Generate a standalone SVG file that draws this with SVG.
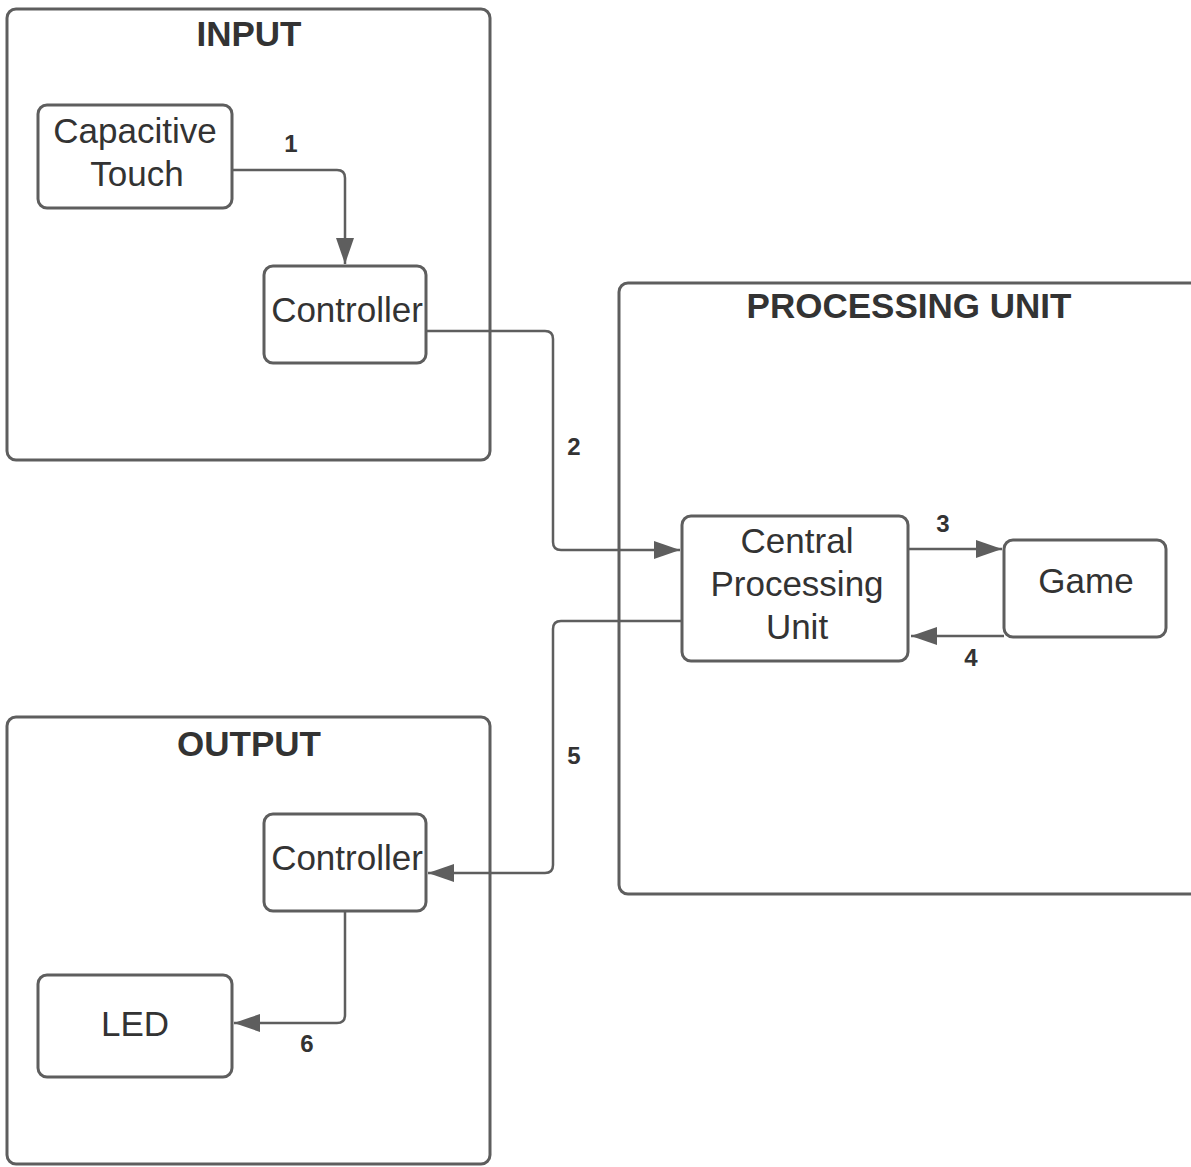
<svg xmlns="http://www.w3.org/2000/svg" width="1191" height="1167" viewBox="0 0 1191 1167">
<style>
.container{fill:none;stroke:#5e5e5e;stroke-width:3}
.node{fill:#ffffff;stroke:#5e5e5e;stroke-width:3}
.title{font-family:"Liberation Sans",Arial,sans-serif;font-size:35px;font-weight:bold;fill:#333333;text-anchor:middle}
.label{font-family:"Liberation Sans",Arial,sans-serif;font-size:35px;fill:#333333;text-anchor:middle}
.num{font-family:"Liberation Sans",Arial,sans-serif;font-size:24px;font-weight:bold;fill:#333333;text-anchor:middle}
.conn{fill:none;stroke:#5e5e5e;stroke-width:2.5}
</style>
<defs>
<marker id="arrow" markerUnits="userSpaceOnUse" markerWidth="28" markerHeight="20" refX="26" refY="9" orient="auto">
<path d="M0,0 L26,9 L0,18 Z" fill="#5e5e5e"/>
</marker>
</defs>
<rect width="1191" height="1167" fill="#ffffff"/>
<g id="input-group">
<rect class="container" x="7" y="9" width="483" height="451" rx="9"/>
<text class="title" x="249" y="46">INPUT</text>
</g>
<g id="processing-group">
<rect class="container" x="619" y="283" width="620" height="611" rx="9"/>
<text class="title" x="909" y="318">PROCESSING UNIT</text>
</g>
<g id="output-group">
<rect class="container" x="7" y="717" width="483" height="447" rx="9"/>
<text class="title" x="249" y="756">OUTPUT</text>
</g>
<g id="connectors">
<path class="conn" marker-end="url(#arrow)" d="M232,170 H337 Q345,170 345,178 V264"/>
<path class="conn" marker-end="url(#arrow)" d="M426,331 H545 Q553,331 553,339 V542 Q553,550 561,550 H680"/>
<path class="conn" marker-end="url(#arrow)" d="M908,549 H1002"/>
<path class="conn" marker-end="url(#arrow)" d="M1004,636 H911"/>
<path class="conn" marker-end="url(#arrow)" d="M682,621 H561 Q553,621 553,629 V865 Q553,873 545,873 H428"/>
<path class="conn" marker-end="url(#arrow)" d="M345,911 V1015 Q345,1023 337,1023 H234"/>
<text class="num" x="291" y="152">1</text>
<text class="num" x="574" y="455">2</text>
<text class="num" x="943" y="532">3</text>
<text class="num" x="971" y="666">4</text>
<text class="num" x="574" y="764">5</text>
<text class="num" x="307" y="1052">6</text>
</g>
<g id="capacitive-touch">
<rect class="node" x="38" y="105" width="194" height="103" rx="9"/>
<text class="label" x="135" y="143">Capacitive</text>
<text class="label" x="137" y="186">Touch</text>
</g>
<g id="input-controller">
<rect class="node" x="264" y="266" width="162" height="97" rx="9"/>
<text class="label" x="347" y="322">Controller</text>
</g>
<g id="cpu">
<rect class="node" x="682" y="516" width="226" height="145" rx="9"/>
<text class="label" x="797" y="553">Central</text>
<text class="label" x="797" y="596">Processing</text>
<text class="label" x="797" y="639">Unit</text>
</g>
<g id="game">
<rect class="node" x="1004" y="540" width="162" height="97" rx="9"/>
<text class="label" x="1086" y="593">Game</text>
</g>
<g id="output-controller">
<rect class="node" x="264" y="814" width="162" height="97" rx="9"/>
<text class="label" x="347" y="870">Controller</text>
</g>
<g id="led">
<rect class="node" x="38" y="975" width="194" height="102" rx="9"/>
<text class="label" x="135" y="1036">LED</text>
</g>
</svg>
